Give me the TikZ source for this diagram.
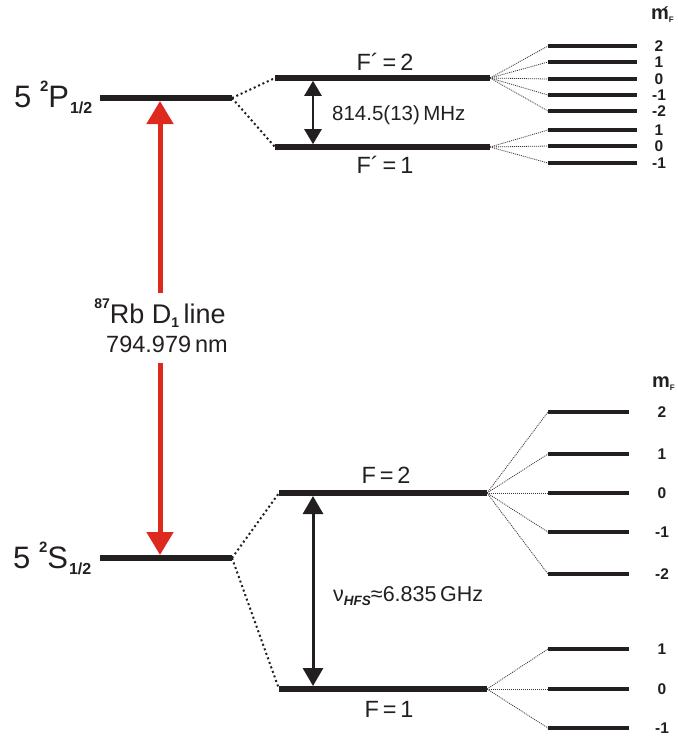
\documentclass[tikz,border=0pt]{standalone}
\usepackage{fontspec}
\setmainfont{Liberation Sans}
\usetikzlibrary{arrows.meta}
\definecolor{rbred}{RGB}{222,42,30}
\definecolor{ink}{RGB}{35,31,32}
\begin{document}
\begin{tikzpicture}[x=1pt,y=-1pt,
  level/.style={line width=6pt, draw=ink},
  hlevel/.style={line width=5.5pt, draw=ink},
  sublevel/.style={line width=4.2pt, draw=ink},
  split/.style={line width=2pt, dash pattern=on 2pt off 2.8pt, draw=ink},
  fan/.style={line width=0.8pt, dash pattern=on 1pt off 1pt, draw=ink!90},
  redarrow/.style={line width=5pt, draw=rbred, fill=rbred, -{Triangle[width=26pt,length=23pt]}},
  smallarrow/.style={line width=2.5pt, draw=ink, fill=ink, {Triangle[width=17pt,length=15pt]}-{Triangle[width=17pt,length=15pt]}},
  bigarrow/.style={line width=3pt, draw=ink, fill=ink, {Triangle[width=20pt,length=18pt]}-{Triangle[width=20pt,length=18pt]}},
  txt/.style={inner sep=0pt, text=ink},
  mnum/.style={inner sep=0pt, text=ink, font=\fontsize{15.5}{15.5}\selectfont\bfseries},
]
\useasboundingbox (0,0) rectangle (678,740);

% ---------- coordinates ----------
\coordinate (PL) at (100,98);  \coordinate (PR) at (232,98);
\coordinate (P2L) at (275,78);  \coordinate (P2R) at (490,78);
\coordinate (P1L) at (275,147); \coordinate (P1R) at (490,147);
\coordinate (SL) at (100,558); \coordinate (SR) at (232,558);
\coordinate (S2L) at (279,493); \coordinate (S2R) at (487,493);
\coordinate (S1L) at (279,689); \coordinate (S1R) at (487,689);

% ---------- main levels ----------
\draw[level] (PL) -- (PR);
\draw[level] (SL) -- (SR);
\draw[hlevel] (P2L) -- (P2R);
\draw[hlevel] (P1L) -- (P1R);
\draw[level] (S2L) -- (S2R);
\draw[level] (S1L) -- (S1R);

% ---------- hyperfine splitting (dotted) ----------
\draw[split] (PR) -- (P2L);
\draw[split] (PR) -- (P1L);
\draw[split] (SR) -- (S2L);
\draw[split] (SR) -- (S1L);

% ---------- Zeeman sublevels, excited state ----------
\foreach \y/\m [count=\i] in {46/2,62/1,79/0,95/-1,111/-2}{
  \coordinate (a\i) at (548,\y);
  \draw[sublevel] (a\i) -- (637,\y);
  \draw[fan] (P2R) -- (a\i);
  \node[mnum] (ma\i) at (659,\y) {\m};
}
\foreach \y/\m [count=\i] in {130/1,146/0,163/-1}{
  \coordinate (b\i) at (548,\y);
  \draw[sublevel] (b\i) -- (637,\y);
  \draw[fan] (P1R) -- (b\i);
  \node[mnum] (mb\i) at (659,\y) {\m};
}

% ---------- Zeeman sublevels, ground state ----------
\foreach \y/\m [count=\i] in {412/2,454/1,493/0,532/-1,574/-2}{
  \coordinate (c\i) at (548,\y);
  \draw[sublevel] (c\i) -- (629,\y);
  \draw[fan] (S2R) -- (c\i);
  \node[mnum] (mc\i) at (662,\y) {\m};
}
\foreach \y/\m [count=\i] in {649/1,689/0,728/-1}{
  \coordinate (d\i) at (548,\y);
  \draw[sublevel] (d\i) -- (629,\y);
  \draw[fan] (S1R) -- (d\i);
  \node[mnum] (md\i) at (662,\y) {\m};
}

% ---------- m_F headers ----------
\node[txt, anchor=base west, font=\fontsize{20}{20}\selectfont\bfseries] (mFp) at (651,19)
  {m\llap{\fontsize{16}{16}\selectfont\raisebox{0.5pt}{´}\kern0.3pt}\raisebox{-3pt}{\fontsize{8}{8}\selectfont F}};
\node[txt, anchor=base west, font=\fontsize{20}{20}\selectfont\bfseries] (mF) at (652,387)
  {m\raisebox{-3pt}{\fontsize{8}{8}\selectfont F}};

% ---------- red D1 arrow ----------
\coordinate (Rtop) at (160,101);
\coordinate (Rbot) at (160,555);
\coordinate (Rg1) at (160,293);
\coordinate (Rg2) at (160,363);
\draw[redarrow] (Rg1) -- (Rtop);
\draw[redarrow] (Rg2) -- (Rbot);
\node[txt, anchor=base, font=\fontsize{27}{27}\selectfont] (D1a) at (160,323)
  {\raisebox{15pt}{\fontsize{14}{14}\selectfont\bfseries 87}Rb D\raisebox{-4pt}{\fontsize{14}{14}\selectfont\bfseries 1}\,line};
\node[txt, anchor=base, font=\fontsize{23.5}{23.5}\selectfont] (D1b) at (167,352) {794.979\,nm};

% ---------- black splitting arrows ----------
\coordinate (hA1) at (313,80.8);
\coordinate (hA2) at (313,144.2);
\draw[smallarrow] (hA1) -- (hA2);
\coordinate (gA1) at (313,496);
\coordinate (gA2) at (313,686);
\draw[bigarrow] (gA1) -- (gA2);

% ---------- labels ----------
\node[txt, anchor=base west, font=\fontsize{31}{36}\selectfont] (Plab) at (14,107)
  {5 \raisebox{16pt}{\fontsize{15}{15}\selectfont\bfseries 2}P\kern1pt\raisebox{-6pt}{\fontsize{16}{16}\selectfont\bfseries 1/2}};
\node[txt, anchor=base west, font=\fontsize{31}{36}\selectfont] (Slab) at (13,568)
  {5 \raisebox{16pt}{\fontsize{15}{15}\selectfont\bfseries 2}S\kern1pt\raisebox{-6pt}{\fontsize{16}{16}\selectfont\bfseries 1/2}};

\node[txt, anchor=base, font=\fontsize{23.5}{23.5}\selectfont] (Fp2) at (385,70) {F´\,=\,2};
\node[txt, anchor=base, font=\fontsize{23.5}{23.5}\selectfont] (Fp1) at (385,173) {F´\,=\,1};
\node[txt, anchor=base, font=\fontsize{23.5}{23.5}\selectfont] (F2) at (386,483) {F\,=\,2};
\node[txt, anchor=base, font=\fontsize{23.5}{23.5}\selectfont] (F1) at (389,717) {F\,=\,1};

\node[txt, anchor=base west, font=\fontsize{20.5}{20.5}\selectfont] (hfsP) at (332,120) {814.5(13)\,MHz};
\node[txt, anchor=base west, font=\fontsize{21.5}{21.5}\selectfont] (hfsS) at (333,601)
  {ν\raisebox{-4pt}{\fontsize{13.5}{13.5}\selectfont\bfseries\itshape HFS}≈6.835\,GHz};
\end{tikzpicture}
\end{document}
